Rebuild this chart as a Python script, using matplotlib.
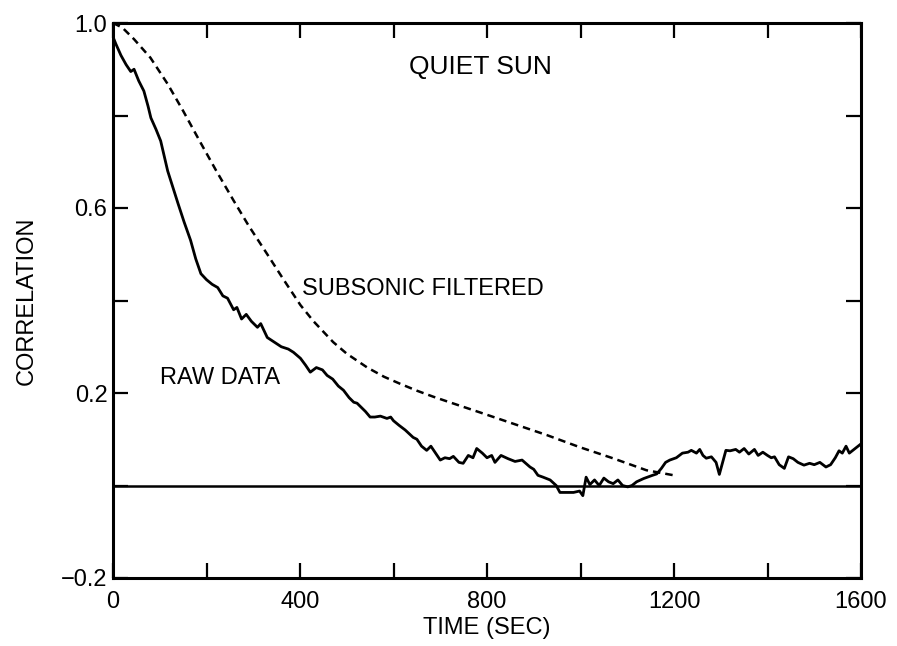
import matplotlib
matplotlib.use("Agg")

import matplotlib.pyplot as plt

plt.rcParams["font.family"] = ["Liberation Sans", "DejaVu Sans"]

# ---------------- DATA ----------------
raw_t = [0, 6, 17, 28, 38, 45, 55, 66, 75, 81, 92, 102, 110, 117, 128, 139,
         152, 166, 177, 188, 200, 212, 224, 235, 245, 258, 265, 275, 285, 296,
         309, 316, 330, 345, 360, 375, 386, 401, 412, 422, 435, 448, 458, 470,
         482, 493, 505, 515, 522, 530, 540, 550, 560, 572, 586, 594, 600, 612,
         625, 642, 650, 660, 671, 680, 690, 700, 710, 720, 728, 740, 749, 760,
         770, 778, 790, 800, 810, 817, 830, 845, 860, 875, 892, 900, 909, 920,
         935, 948, 956, 970, 985, 998, 1005, 1012, 1020, 1030, 1040, 1050, 1060,
         1070, 1080, 1090, 1101, 1110, 1120, 1135, 1154, 1163, 1173, 1182, 1191,
         1205, 1218, 1230, 1237, 1248, 1255, 1262, 1269, 1280, 1290, 1297, 1304,
         1311, 1320, 1332, 1340, 1350, 1360, 1372, 1380, 1390, 1400, 1408, 1415,
         1425, 1436, 1445, 1455, 1465, 1478, 1490, 1500, 1512, 1525, 1535, 1545,
         1553, 1560, 1568, 1575, 1585, 1596, 1600]
raw_corr = [0.97, 0.955, 0.93, 0.91, 0.895, 0.90, 0.875, 0.853, 0.82, 0.795,
            0.77, 0.745, 0.71, 0.68, 0.645, 0.61, 0.57, 0.53, 0.49, 0.458,
            0.445, 0.435, 0.428, 0.41, 0.405, 0.38, 0.385, 0.36, 0.37, 0.355,
            0.342, 0.35, 0.32, 0.31, 0.30, 0.295, 0.288, 0.275, 0.26, 0.245,
            0.255, 0.25, 0.238, 0.23, 0.215, 0.206, 0.19, 0.18, 0.178, 0.17,
            0.16, 0.148, 0.148, 0.15, 0.145, 0.148, 0.14, 0.13, 0.12, 0.104,
            0.10, 0.085, 0.076, 0.085, 0.07, 0.055, 0.06, 0.058, 0.063, 0.05,
            0.048, 0.065, 0.06, 0.08, 0.07, 0.06, 0.065, 0.05, 0.065, 0.058,
            0.052, 0.055, 0.04, 0.035, 0.022, 0.018, 0.012, 0.0, -0.015, -0.015,
            -0.015, -0.012, -0.022, 0.018, 0.002, 0.012, 0.0, 0.016, 0.008,
            0.004, 0.012, 0.0, -0.003, 0.0, 0.008, 0.015, 0.022, 0.025, 0.037,
            0.05, 0.055, 0.06, 0.07, 0.072, 0.076, 0.07, 0.078, 0.065, 0.059,
            0.062, 0.05, 0.024, 0.05, 0.076, 0.075, 0.078, 0.072, 0.08, 0.068,
            0.078, 0.065, 0.072, 0.065, 0.06, 0.062, 0.045, 0.037, 0.062, 0.058,
            0.05, 0.044, 0.048, 0.045, 0.05, 0.04, 0.045, 0.06, 0.075, 0.07,
            0.085, 0.07, 0.078, 0.087, 0.09]

filt_t = [0, 20, 45, 80, 117, 150, 188, 220, 258, 290, 330, 365, 401, 429,
          471, 500, 544, 580, 614, 650, 685, 720, 785, 855, 928, 998, 1069,
          1141, 1200]
filt_corr = [1.0, 0.99, 0.965, 0.925, 0.868, 0.81, 0.74, 0.682, 0.616, 0.562,
             0.50, 0.445, 0.39, 0.355, 0.31, 0.285, 0.255, 0.235, 0.22, 0.205,
             0.192, 0.18, 0.158, 0.134, 0.109, 0.083, 0.059, 0.033, 0.022]

x_ticks = [0, 200, 400, 600, 800, 1000, 1200, 1400, 1600]
x_labels = ["0", "", "400", "", "800", "", "1200", "", "1600"]
y_ticks = [-0.2, 0.0, 0.2, 0.4, 0.6, 0.8, 1.0]
y_labels = ["\u22120.2", "", "0.2", "", "0.6", "", "1.0"]

# ---------------- FIGURE ----------------
fig = plt.figure(figsize=(8.97, 6.46), dpi=100)
ax = fig.add_axes([113 / 897, 1 - 578 / 646, 748 / 897, 555 / 646])

ax.axhline(0.0, color="black", linewidth=1.8)
ax.plot(raw_t, raw_corr, color="black", linewidth=2.0)
ax.plot(filt_t, filt_corr, color="black", linewidth=1.8,
        linestyle=(0, (3.0, 2.0)))

ax.set_xlim(0, 1600)
ax.set_ylim(-0.2, 1.0)

ax.set_xticks(x_ticks)
ax.set_xticklabels(x_labels)
ax.set_yticks(y_ticks)
ax.set_yticklabels(y_labels)

ax.tick_params(direction="in", length=11, width=1.6, top=True, right=True,
               labelsize=17)
ax.tick_params(axis="x", pad=9)
ax.tick_params(axis="y", pad=4)
for s in ax.spines.values():
    s.set_linewidth(2.2)

ax.set_xlabel("TIME (SEC)", fontsize=17, labelpad=3)
ax.set_ylabel("CORRELATION", fontsize=17, labelpad=17)

ax.text(785, 0.905, "QUIET SUN", fontsize=19, ha="center", va="center")
ax.text(405, 0.425, "SUBSONIC FILTERED", fontsize=17, ha="left",
        va="center")
ax.text(228, 0.232, "RAW DATA", fontsize=17, ha="center", va="center")

fig.savefig("out.png", dpi=100)
